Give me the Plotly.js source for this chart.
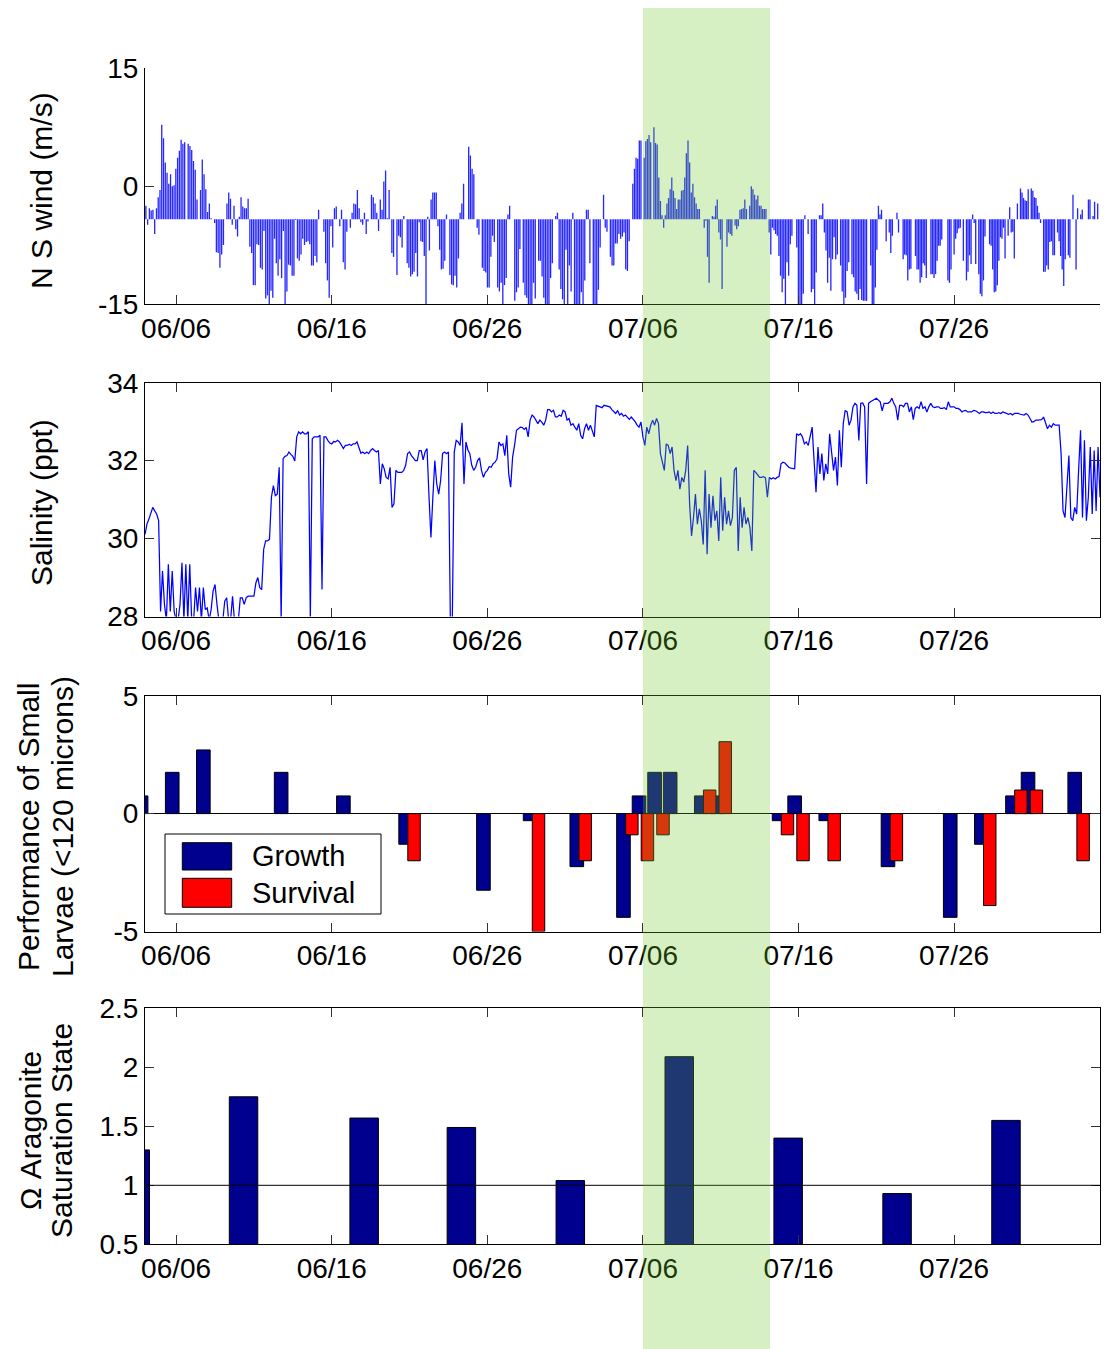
<!DOCTYPE html>
<html><head><meta charset="utf-8">
<script src="https://cdn.plot.ly/plotly-3.0.1.min.js"></script>
<style>html,body{margin:0;padding:0;background:#fff}#chart{width:1104px;height:1349px}</style>
</head><body><div id="chart"></div>
<script>
// ---------- shared axis data ----------
const tickDates  = ['2009-06-06','2009-06-16','2009-06-26','2009-07-06','2009-07-16','2009-07-26'];
const tickLabels = ['06/06','06/16','06/26','07/06','07/16','07/26'];
const xRange     = ['2009-06-04 00:00','2009-08-04 09:00'];
const bandDates  = ['2009-07-06 00:00','2009-07-14 04:00'];

// ---------- N-S wind (m/s), four consecutive sampling stretches ----------
const windBase = -4.2;
const windStarts = ['2009-06-04 00:00','2009-06-19 19:26','2009-07-05 07:10','2009-07-20 14:10'];
const windEnds   = ['2009-06-19 17:53','2009-07-05 04:05','2009-07-20 12:43','2009-08-04 09:00'];
const wind1 = [-2.5,-4.9,-2.8,-3.1,-3.0,-6.1,-2.8,-1.4,-0.5,7.8,6.1,3.0,1.7,0.3,1.5,0.0,0.1,2.2,3.6,4.5,5.9,5.4,5.6,-4.2,5.4,5.1,4.6,3.2,2.1,-1.7,-4.2,-0.5,3.4,1.5,-0.4,-3.3,-2.2,-4.1,-4.2,-4.7,-8.4,-8.5,-10.4,-8.7,-7.5,-4.2,-2.2,-0.8,-1.6,-4.9,-2.5,-5.5,-6.4,-3.9,-1.4,-2.6,-2.8,-2.8,-1.6,-7.7,-8.5,-12.6,-12.6,-7.4,-7.5,-10.4,-10.6,-5.7,-14.3,-13.9,-15.2,-13.3,-14.2,-6.7,-9.8,-11.4,-9.3,-11.7,-5.7,-15.2,-13.4,-10.0,-10.1,-11.4,-11.4,-4.3,-9.2,-9.5,-8.7,-6.7,-7.5,-7.1,-7.0,-7.4,-10.1,-10.1,-8.9,-9.7,-3.0,-4.2,-4.2,-5.8,-9.8,-12.0,-14.2,-5.1,-7.8,-2.8,-2.6,-4.2,-5.1,-3.0,-9.7,-10.6,-5.8,-4.2,-5.3,-3.4,-2.2,-2.3,-0.5,-2.8,-4.6,-4.9,-3.4,-6.1,-4.5,-4.2,-1.1,-1.4,-2.2,-3.4,-5.7,-1.7,-3.0,0.6,2.0,-4.1,-0.5];
const wind2 = [-8.5,-9.0,-4.2,-11.3,-6.3,-6.5,-7.8,-3.8,-4.2,-9.8,-10.4,-11.5,-11.2,-10.9,-8.5,-11.5,-4.6,-7.0,-7.1,-8.9,-15.2,-3.9,-8.2,-1.7,-0.8,-0.8,-0.8,-5.1,-8.1,-10.6,-10.5,-9.5,-3.6,-4.2,-11.3,-12.5,-12.6,-11.4,-12.9,-9.2,-3.4,-2.2,0.3,-4.2,-4.2,5.0,3.9,2.2,1.5,-4.2,-5.3,-6.2,-4.2,-10.4,-10.8,-11.0,-12.9,-12.9,-9.0,-6.3,-7.1,-4.2,-12.9,-13.4,-12.3,-15.2,-12.6,-11.7,-3.6,-2.5,-4.2,-4.2,-14.6,-13.5,-12.9,-8.0,-4.2,-12.3,-13.9,-14.2,-15.2,-15.2,-15.2,-12.3,-14.3,-4.2,-9.5,-9.5,-11.5,-14.2,-15.2,-15.2,-15.2,-11.7,-9.8,-4.2,-3.8,-3.4,-10.6,-13.1,-14.4,-15.2,-8.1,-15.2,-10.1,-13.4,-3.4,-15.2,-15.2,-15.2,-15.2,-13.5,-15.2,-12.0,-3.0,-3.0,-9.8,-4.2,-15.2,-15.2,-15.2,-13.2,-7.8,-4.2,-1.1,-5.3,-5.8,-4.2,-9.0,-10.1,-10.1,-7.3,-7.3,-6.1,-6.7,-6.4,-5.9,-10.6,-10.8,-7.0];
const wind3 = [0.3,2.2,3.6,3.5,5.8,5.8,-4.2,3.6,5.7,6.0,6.5,5.6,-4.2,7.5,5.5,5.3,1.1,-1.9,-3.7,-5.3,-3.7,-2.2,-1.5,-0.4,1.1,-0.6,-1.5,-2.9,-1.7,-1.7,-0.6,-0.5,1.1,4.2,5.8,3.0,-0.8,0.3,-1.4,-2.2,-2.9,-2.9,-4.2,-4.2,-5.3,-4.4,-9.0,-12.3,-4.2,-3.8,-3.9,-2.5,-1.7,-5.9,-6.8,-13.1,-4.2,-4.2,-7.7,-5.9,-6.1,-6.3,-4.2,-5.0,-5.5,-5.1,-3.0,-2.9,-2.8,-1.7,-2.9,-4.2,-2.5,0.0,-0.4,-1.1,-1.7,-1.2,-2.5,-2.5,-2.9,-2.9,-2.9,-4.2,-5.9,-8.7,-5.3,-5.6,-6.1,-6.3,-8.9,-11.4,-13.5,-11.8,-15.2,-9.7,-11.4,-7.4,-6.3,-4.2,-4.2,-7.8,-15.2,-15.2,-15.2,-13.7,-3.7,-4.2,-6.1,-4.2,-13.5,-13.1,-15.2,-11.0,-4.2,-3.7,-3.7,-2.2,-5.9,-8.2,-12.3,-9.1,-13.3,-9.3,-6.5,-9.3,-8.7,-4.2,-10.1,-13.4,-15.2,-14.2,-10.8,-9.7,-4.2,-11.2,-11.6,-13.4,-13.7,-14.5,-13.1,-14.5,-14.6,-14.6,-14.6,-4.2];
const wind4 = [-10.1,-15.2,-15.2,-12.9,-8.1,-2.5,-3.6,-3.0,-4.2,-4.2,-7.0,-4.2,-5.9,-8.5,-6.3,-4.2,-4.2,-3.4,-5.9,-4.2,-4.2,-9.3,-8.7,-8.8,-12.0,-10.6,-10.5,-4.2,-4.2,-8.9,-10.6,-10.6,-12.3,-11.6,-9.8,-10.1,-11.7,-4.2,-4.2,-11.2,-11.2,-11.7,-11.2,-9.5,-7.6,-7.6,-6.8,-4.2,-4.2,-4.2,-12.0,-12.3,-10.6,-4.2,-8.7,-6.7,-6.0,-5.4,-5.3,-4.2,-9.5,-4.2,-12.0,-10.9,-8.8,-9.9,-3.6,-4.7,-9.9,-4.2,-11.2,-13.7,-14.0,-12.0,-6.4,-4.2,-4.2,-7.4,-7.6,-10.6,-13.5,-13.4,-12.6,-9.5,-6.5,-6.7,-5.3,-9.2,-4.2,-6.3,-2.7,-5.9,-5.8,-9.2,-4.2,-2.2,-4.2,-0.3,-0.8,-1.5,-1.8,-1.9,-0.4,-4.2,-0.3,-0.6,-1.4,-1.5,-2.5,-3.4,-4.7,-4.2,-10.9,-10.9,-10.1,-10.6,-7.1,-7.0,-8.8,-8.8,-4.2,-5.9,-7.0,-8.9,-10.6,-12.7,-9.3,-4.2,-8.8,-9.1,-4.2,-1.1,-4.2,-10.6,-2.8,-4.2,-3.6,-3.0,-4.2,-4.2,-4.2,-1.7,-1.7,-4.2,-3.8,-2.0,-4.2,-2.2,-4.2];

// ---------- Salinity (ppt), every 3 h from 06/04 00:00 (one row per day) ----------
const salStart = '2009-06-04 00:00';
const salStepHours = 3;
const salinity = [
30.11,30.37,30.5,30.67,30.8,30.71,30.63,30.46,
28.13,29.17,28.31,27.9,29.34,28.13,29.17,28.13,
27.9,27.9,28.31,29.38,27.9,29.34,27.9,29.34,
27.9,27.9,28.74,28.13,28.74,27.9,28.74,28.18,
28.22,27.9,28.18,28.65,28.82,28.31,27.9,27.9,
27.9,28.39,28.48,27.9,27.9,28.52,27.9,27.9,
27.9,28.48,28.48,28.31,28.48,28.52,28.52,28.52,
28.52,28.86,29.0,28.74,28.69,29.72,29.94,29.94,
29.98,31.06,31.36,31.1,31.14,31.83,27.9,32.05,
32.11,32.13,32.22,32.16,32.11,31.99,32.61,32.74,
32.69,32.74,32.69,32.69,32.74,27.9,32.56,32.61,
32.61,32.61,32.65,28.69,32.61,32.61,32.52,32.45,
32.43,32.49,32.48,32.52,32.48,32.39,32.31,32.39,
32.39,32.42,32.39,32.43,32.43,32.48,32.33,32.19,
32.22,32.18,32.22,32.18,32.26,32.31,32.26,32.22,
32.26,31.4,31.92,31.79,31.57,31.53,31.83,30.8,
30.89,31.75,31.7,31.7,31.7,31.75,31.88,32.18,
32.22,32.13,32.05,32.0,32.0,32.26,32.26,32.02,
32.22,32.31,31.1,30.03,31.06,32.0,31.4,31.14,
31.49,32.18,32.22,32.18,32.22,27.9,27.9,32.22,
32.52,32.48,32.39,32.97,31.4,32.48,32.28,32.18,
31.88,31.75,31.83,32.0,32.07,31.75,31.57,31.7,
31.75,31.85,31.83,31.92,31.96,32.05,32.48,32.39,
32.43,32.13,32.65,31.66,31.32,32.09,32.39,32.78,
32.82,32.86,32.85,32.8,32.85,32.61,33.04,33.17,
33.12,33.04,32.95,33.04,32.99,32.91,33.04,33.31,
33.31,33.25,33.29,33.12,33.12,33.17,33.14,33.29,
33.25,33.04,33.08,32.91,32.95,32.86,32.78,32.95,
32.65,32.56,32.82,32.95,32.78,32.91,32.74,32.61,
33.42,33.4,33.38,33.36,33.42,33.4,33.38,33.38,
33.31,33.25,33.21,33.28,33.17,33.21,33.14,33.17,
33.12,33.06,33.12,33.06,33.0,32.91,32.86,32.99,
32.61,32.39,32.86,32.69,32.91,33.04,32.91,33.08,
32.95,32.18,31.92,31.75,32.43,32.39,32.18,32.35,
31.75,31.49,31.75,31.27,31.57,31.45,31.75,32.39,
30.89,30.07,30.54,31.14,30.37,30.76,30.46,29.85,
31.75,29.6,31.14,30.28,31.1,30.46,30.71,29.94,
31.57,30.2,31.06,30.37,30.71,30.33,30.54,31.75,
31.83,29.68,31.06,30.28,30.8,30.37,30.54,30.28,
29.68,31.75,31.7,31.64,31.57,31.57,31.59,31.56,
31.06,31.57,31.53,31.56,31.53,31.57,31.59,31.92,
31.96,31.94,31.88,31.83,31.81,31.79,31.79,32.69,
32.65,32.69,32.61,32.43,32.48,32.39,32.61,32.86,
32.0,31.19,32.35,31.66,32.18,31.49,31.92,31.66,
32.69,32.18,31.75,32.09,31.36,32.78,31.83,32.95,
33.29,33.25,32.91,33.04,33.38,33.47,33.42,32.52,
33.47,33.48,33.38,31.4,33.47,33.51,33.55,33.57,
33.6,33.55,33.51,33.28,33.47,33.47,33.47,33.51,
33.6,33.47,33.38,33.04,33.42,33.42,33.38,33.47,
33.47,33.25,33.38,33.05,33.34,33.38,33.34,33.51,
33.34,33.38,33.25,33.38,33.47,33.38,33.36,33.38,
33.38,33.34,33.34,33.36,33.31,33.51,33.38,33.38,
33.38,33.34,33.34,33.31,33.25,33.28,33.29,33.25,
33.25,33.25,33.29,33.28,33.25,33.21,33.25,33.25,
33.23,33.23,33.25,33.21,33.25,33.21,33.21,33.23,
33.21,33.25,33.23,33.21,33.19,33.21,33.17,33.21,
33.21,33.21,33.19,33.17,33.17,33.21,33.17,33.08,
32.99,33.0,33.04,33.04,33.04,33.05,33.12,32.95,
32.82,32.91,32.86,32.95,32.91,32.91,32.91,32.18,
30.71,30.54,31.49,32.13,30.54,30.46,30.8,30.63,
31.75,32.78,30.54,32.52,30.46,31.06,32.35,30.63,
32.26,30.71,32.35,31.06];

// ---------- Larval performance ----------
const perfDates = ['2009-06-03 18:00','2009-06-05 18:00','2009-06-07 18:00','2009-06-12 18:00','2009-06-16 18:00','2009-06-20 18:00','2009-06-25 18:00','2009-06-28 18:00','2009-07-01 18:00','2009-07-04 18:00','2009-07-05 18:00','2009-07-06 18:00','2009-07-07 18:00','2009-07-09 18:00','2009-07-10 18:00','2009-07-14 18:00','2009-07-15 18:00','2009-07-17 18:00','2009-07-21 18:00','2009-07-25 18:00','2009-07-27 18:00','2009-07-29 18:00','2009-07-30 18:00','2009-08-02 18:00'];
const growth   = [0.75,1.75,2.7,1.75,0.75,-1.3,-3.25,-0.3,-2.25,-4.4,0.75,1.75,1.75,0.75,0.75,-0.3,0.75,-0.3,-2.25,-4.4,-1.3,0.75,1.75,1.75];
const survival = [null,null,null,null,null,-2,null,-5,-2,-0.9,-2,-0.9,null,1,3.05,-0.9,-2,-2,-2,null,-3.9,1,1,-2];

// ---------- Aragonite saturation state ----------
const aragDates  = ['2009-06-03 09:00','2009-06-10 08:00','2009-06-18 02:00','2009-06-24 08:00','2009-07-01 08:00','2009-07-08 08:00','2009-07-15 08:00','2009-07-22 08:00','2009-07-29 08:00'];
const aragValues = [1.30,1.75,1.57,1.49,1.04,2.09,1.40,0.93,1.55];

// ---------- build ----------
const DAY = 86400000;
const ms = s => Date.parse(s.replace(' ','T') + ':00Z');
const W = 1104, H = 1349;
const px = v => v / W;
const py = v => 1 - v / H;

const windX = [], windY = [];
[wind1, wind2, wind3, wind4].forEach((arr, k) => {
  const a = ms(windStarts[k]), b = ms(windEnds[k]);
  const step = (b - a) / arr.length;
  arr.forEach((v, i) => { windX.push(a + (i + 0.5) * step); windY.push(v); });
});
const salX = salinity.map((v, i) => ms(salStart) + i * salStepHours * 3600000);

const font = 'Liberation Sans, Arial, Helvetica, sans-serif';
const NAVY = '#00008f';

const traces = [
  {type:'bar', x: windX, y: windY.map(v => v - windBase), base: windBase,
   width: 0.085 * DAY, marker:{color:'rgba(0,0,255,0.85)', line:{width:0}},
   xaxis:'x', yaxis:'y'},
  {type:'scatter', mode:'lines', x: salX, y: salinity,
   line:{color:'#0000ff', width:1.25}, xaxis:'x2', yaxis:'y2'},
  {type:'bar', x: perfDates.map(ms), y: growth, width: 0.875 * DAY, offset: -0.4375 * DAY,
   marker:{color: NAVY, line:{color:'#000', width:1}}, xaxis:'x3', yaxis:'y3'},
  {type:'bar', x: perfDates.map(ms), y: survival, width: 0.8 * DAY, offset: 0.14 * DAY,
   marker:{color:'#ff0000', line:{color:'#000', width:1}}, xaxis:'x3', yaxis:'y3'},
  {type:'bar', x: aragDates.map(ms), y: aragValues, width: 1.83 * DAY,
   marker:{color: NAVY, line:{color:'#000', width:1}}, xaxis:'x4', yaxis:'y4'}
];

const xDomain = [px(145), px(1100)];
function xAx(anchor, mirror) {
  return {domain: xDomain, anchor, type:'date', range: xRange,
    tickvals: tickDates, ticktext: tickLabels, tickmode:'array',
    ticks:'inside', ticklen: 9, tickcolor:'#333', showline:true, linecolor:'#000', linewidth:1,
    mirror: mirror ? 'ticks' : false, showgrid:false, zeroline:false,
    tickfont:{size:28, color:'#000'}, ticklabelstandoff: -1};
}
function yAx(anchor, dom, range, vals, texts, mirror, zl) {
  return {domain: dom, anchor, range, tickvals: vals, ticktext: texts, tickmode:'array',
    ticks:'inside', ticklen: 9, tickcolor:'#333', showline:true, linecolor:'#000', linewidth:1,
    mirror: mirror ? 'ticks' : false, showgrid:false,
    zeroline: !!zl, zerolinecolor:'#000', zerolinewidth:1,
    tickfont:{size:28, color:'#000'}, ticklabelstandoff: 0};
}

const layout = {
  width: W, height: H, margin:{l:0, r:0, t:0, b:0},
  paper_bgcolor:'#fff', plot_bgcolor:'#fff', showlegend:false,
  font:{family: font, color:'#000'}, barmode:'overlay', hovermode:false,
  xaxis:  xAx('y', false),
  yaxis:  yAx('x',  [py(304), py(68.3)],  [-15, 15], [-15, 0, 15], ['-15','0','15'], false),
  xaxis2: xAx('y2', true),
  yaxis2: yAx('x2', [py(616.5), py(382.7)], [28, 34], [28, 30, 32, 34], ['28','30','32','34'], true),
  xaxis3: xAx('y3', true),
  yaxis3: yAx('x3', [py(931.5), py(695.7)], [-5, 5], [-5, 0, 5], ['-5','0','5'], true, true),
  xaxis4: xAx('y4', true),
  yaxis4: yAx('x4', [py(1244.3), py(1008.3)], [0.5, 2.5], [0.5, 1, 1.5, 2, 2.5], ['0.5','1','1.5','2','2.5'], true),
  shapes: [
    {type:'line', xref:'x4 domain', yref:'y4', x0:0, x1:1, y0:1, y1:1, line:{color:'#000', width:1}, layer:'above'},
    {type:'rect', xref:'paper', yref:'paper', x0:px(165), x1:px(381), y0:py(914), y1:py(834),
     fillcolor:'#fff', line:{color:'#000', width:1}, layer:'above'},
    {type:'rect', xref:'paper', yref:'paper', x0:px(182.3), x1:px(231.7), y0:py(870), y1:py(842.7),
     fillcolor: NAVY, line:{color:'#000', width:1}, layer:'above'},
    {type:'rect', xref:'paper', yref:'paper', x0:px(182.3), x1:px(231.7), y0:py(907.3), y1:py(878.3),
     fillcolor:'#ff0000', line:{color:'#000', width:1}, layer:'above'},
    {type:'rect', xref:'x', yref:'paper', x0: bandDates[0], x1: bandDates[1], y0: 0, y1: py(8),
     fillcolor:'rgba(110,200,40,0.28)', line:{width:0}, layer:'above'}
  ],
  annotations: [
    {text:'N S wind (m/s)', x:px(42), y:py(191)},
    {text:'Salinity (ppt)', x:px(42), y:py(503)},
    {text:'Performance of Small', x:px(28), y:py(827)},
    {text:'Larvae (<120 microns)', x:px(62), y:py(827)},
    {text:'Ω Aragonite', x:px(30), y:py(1131)},
    {text:'Saturation State', x:px(61), y:py(1131)},
    {text:'Growth', x:px(250), y:py(856), textangle:0, xanchor:'left'},
    {text:'Survival', x:px(250), y:py(893), textangle:0, xanchor:'left'}
  ].map(a => Object.assign({xref:'paper', yref:'paper', showarrow:false, textangle:-90,
        xanchor:'center', yanchor:'middle', font:{size:30, color:'#000', family: font}}, a))
};
layout.annotations.slice(-2).forEach(a => a.font = {size:29, color:'#000', family: font});

Plotly.newPlot('chart', traces, layout, {staticPlot:true, displayModeBar:false});
</script></body></html>
